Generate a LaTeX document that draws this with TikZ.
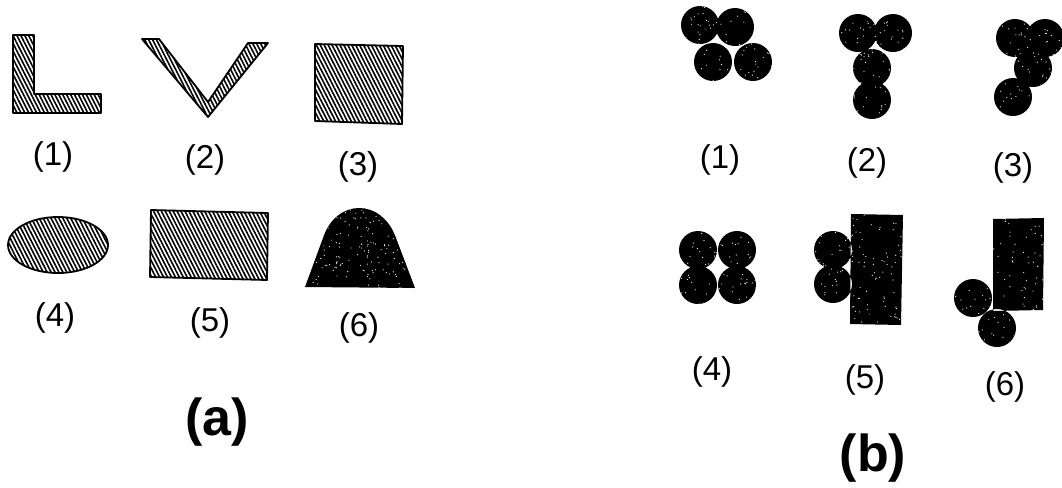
\documentclass[tikz,border=0pt]{standalone}
\usepackage{fontspec}
\setmainfont{Liberation Sans}
\usetikzlibrary{patterns.meta}
\tikzset{
  hatch/.style={draw=black, line width=0.9pt, line join=round,
    pattern={Lines[angle=-63,distance=1.75pt,line width=0.8pt]}},
  blob/.style={fill=black},
  lab/.style={font=\fontsize{16.5}{18}\selectfont, inner sep=0pt},
  capt/.style={font=\fontsize{26}{28}\selectfont\bfseries, inner sep=0pt},
}
\newcommand\specks[5]{%
  \foreach \k in {1,...,#5}{%
    \pgfmathsetmacro\sx{#1+rnd*#3}%
    \pgfmathsetmacro\sy{#2+rnd*#4}%
    \fill[white] (\sx,\sy) circle (0.3pt);}}
\begin{document}
\begin{tikzpicture}[x=0.5pt,y=-0.5pt]
\pgfmathsetseed{11}
\useasboundingbox (0,0) rectangle (1062,488);

% ---------------- (a) ----------------
% (1) L shape
\draw[hatch] (13,35) -- (34,35) -- (34,94) -- (101,94) -- (101,113) -- (13,113) -- cycle;
% (2) V shape
\draw[hatch] (142,39) -- (159,39) -- (208,102) -- (248,43) -- (268,43) -- (208,117) -- cycle;
% (3) square
\draw[hatch] (315,44) -- (403,46) -- (402,124) -- (315,121) -- cycle;
% (4) ellipse
\draw[hatch] (58,245) ellipse [x radius=50, y radius=28];
% (5) rectangle
\draw[hatch] (151,210) -- (268,213) -- (267,280) -- (150,277) -- cycle;
% (6) bell
\begin{scope}
  \path[clip] (305,287) -- (323,238) .. controls (336,198) and (382,198) .. (396,238) -- (415,288) -- cycle;
  \fill[black] (300,200) rectangle (420,292);
  \specks{300}{200}{120}{92}{220}
\end{scope}

\node[lab] (a1) at (53,157) {(1)};
\node[lab] (a2) at (205,160) {(2)};
\node[lab] (a3) at (358,167) {(3)};
\node[lab] (a4) at (55,318) {(4)};
\node[lab] (a5) at (210,323) {(5)};
\node[lab] (a6) at (359,328) {(6)};
\node[capt] (capa) at (217,422) {(a)};

% ---------------- (b) ----------------
\begin{scope}
  \clip (700,25) circle (9.5pt) (735,27) circle (9.5pt) (713,62) circle (9.5pt) (753,62) circle (9.5pt);
  \fill[black] (670,0) rectangle (780,90);
  \specks{670}{0}{110}{90}{130}
\end{scope}
\begin{scope}
  \clip (858,33) circle (9.5pt) (893,33) circle (9.5pt) (872,68) circle (9.5pt) (872,100) circle (9.5pt);
  \fill[black] (830,5) rectangle (920,125);
  \specks{830}{5}{90}{120}{130}
\end{scope}
\begin{scope}
  \clip (1015,38) circle (9.5pt) (1045,38) circle (9.5pt) (1033,68) circle (9.5pt) (1013,97) circle (9.5pt);
  \fill[black] (985,10) rectangle (1070,125);
  \specks{985}{10}{85}{115}{120}
\end{scope}
\begin{scope}
  \clip (698,250) circle (9.5pt) (737,250) circle (9.5pt) (698,285) circle (9.5pt) (737,285) circle (9.5pt);
  \fill[black] (670,220) rectangle (765,315);
  \specks{670}{220}{95}{95}{120}
\end{scope}
\begin{scope}
  \clip (833,250) circle (9.5pt) (833,284) circle (9.5pt) (851,214) -- (903,215) -- (901,325) -- (850,324) -- cycle;
  \fill[black] (805,205) rectangle (910,330);
  \specks{805}{205}{105}{125}{160}
\end{scope}
\begin{scope}
  \clip (973,298) circle (9.5pt) (997,328) circle (9.5pt) (993,219) -- (1044,218) -- (1043,310) -- (993,311) -- cycle;
  \fill[black] (945,210) rectangle (1050,355);
  \specks{945}{210}{105}{145}{160}
\end{scope}

\node[lab] (b1) at (720,160) {(1)};
\node[lab] (b2) at (867,163) {(2)};
\node[lab] (b3) at (1013,168) {(3)};
\node[lab] (b4) at (712,372) {(4)};
\node[lab] (b5) at (865,380) {(5)};
\node[lab] (b6) at (1005,387) {(6)};
\node[capt] (capb) at (873,458) {(b)};
\end{tikzpicture}
\end{document}
